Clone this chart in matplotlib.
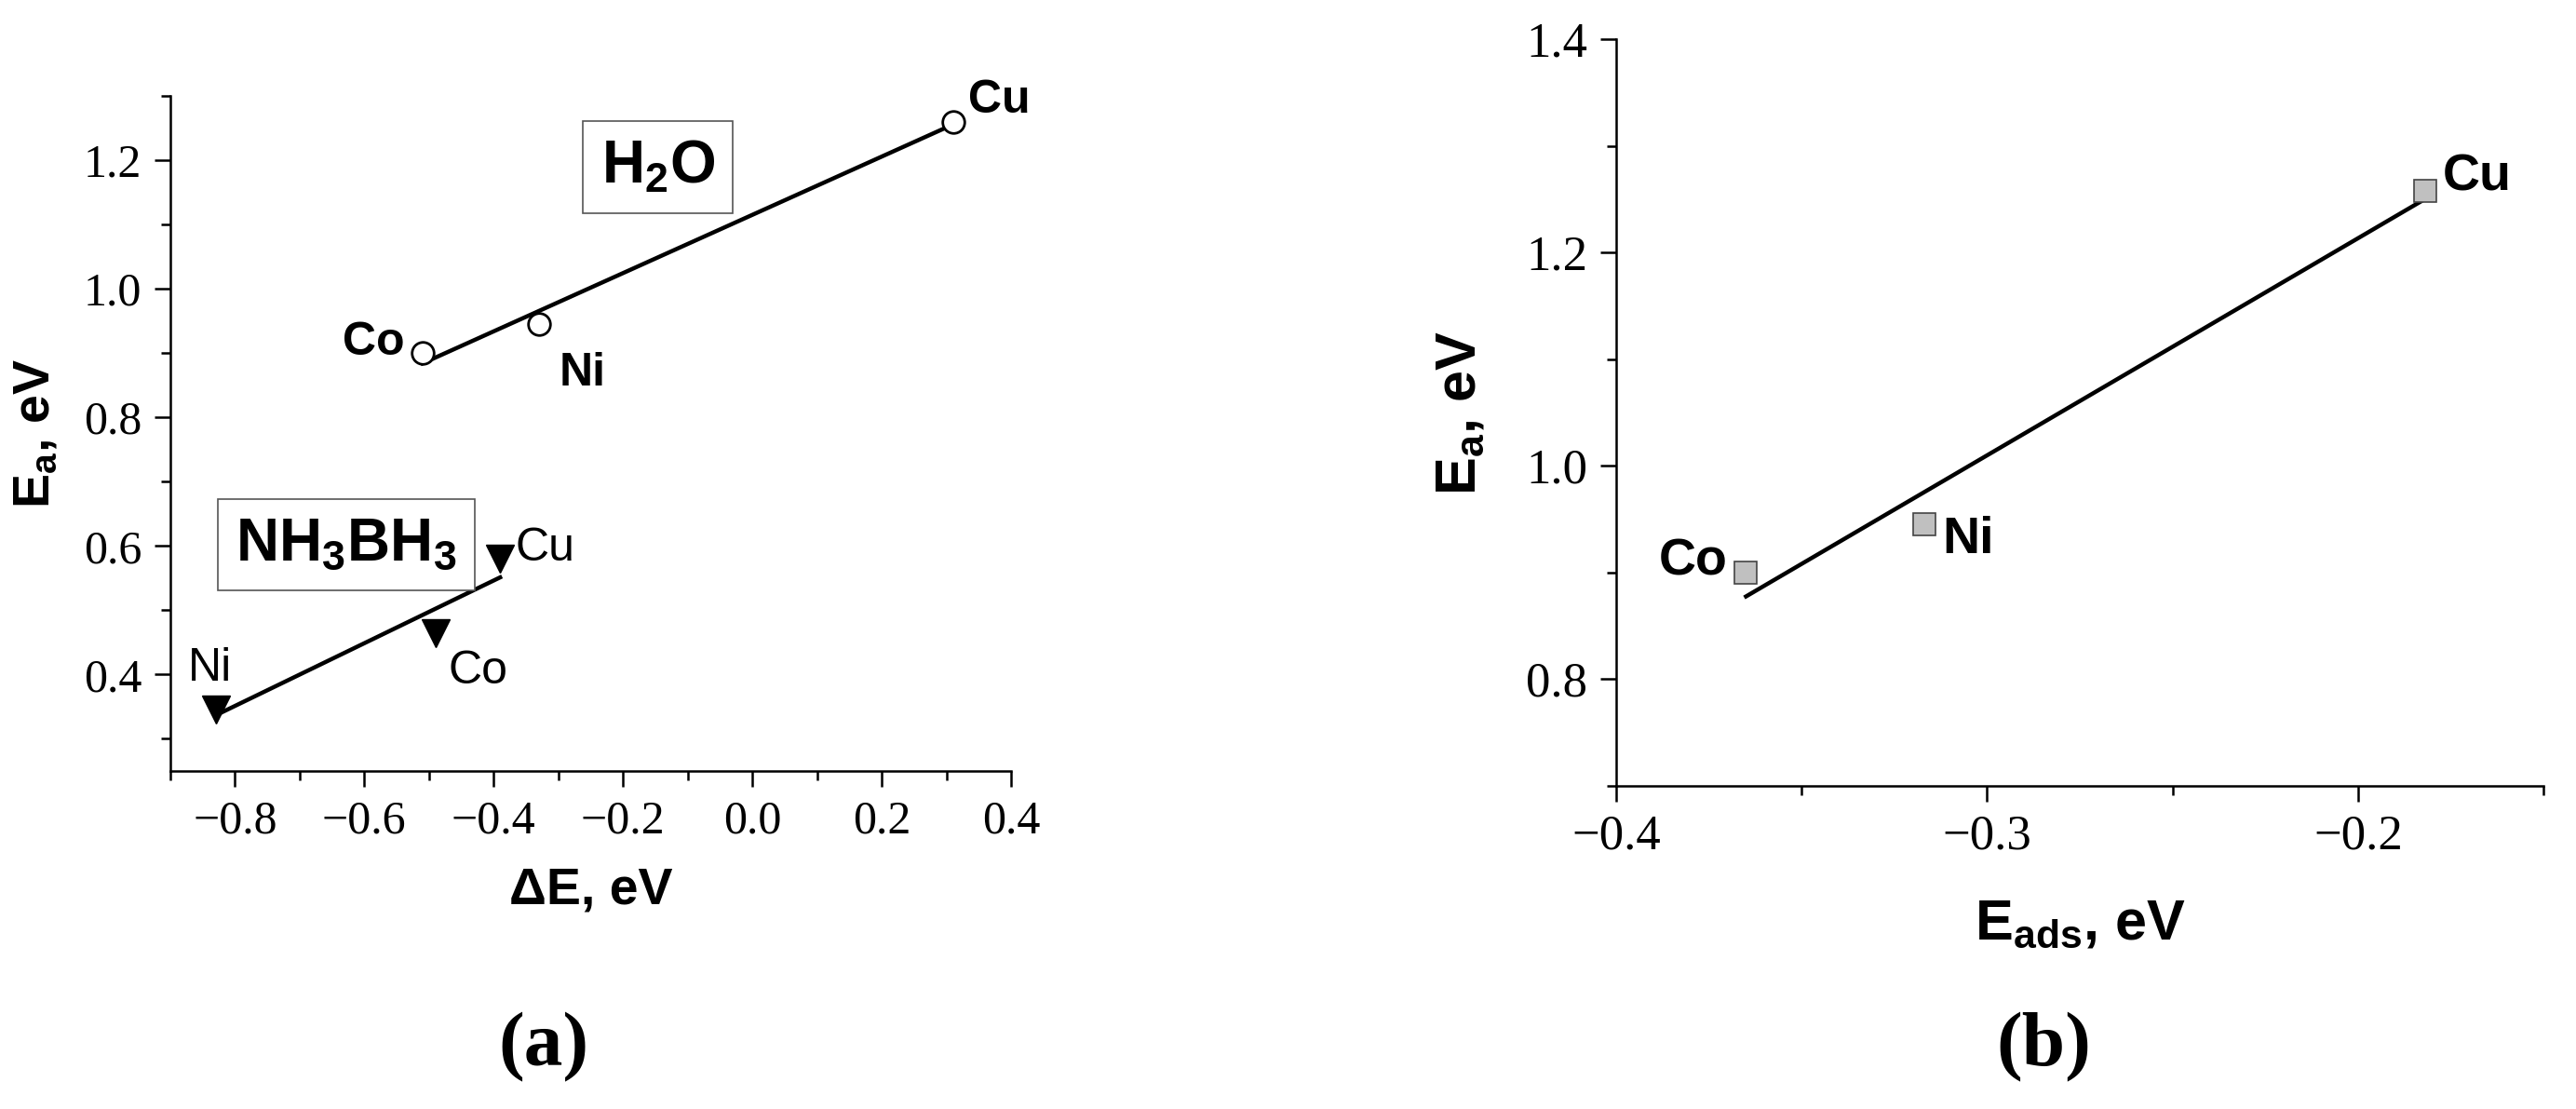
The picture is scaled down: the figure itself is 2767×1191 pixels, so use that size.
import matplotlib
matplotlib.use('Agg')
import matplotlib.pyplot as plt
from matplotlib.ticker import MultipleLocator
import numpy as np

metals_h2o = ['Co', 'Ni', 'Cu']
dE_h2o = [-0.51, -0.33, 0.31]
ea_h2o = [0.90, 0.945, 1.26]

metals_ab = ['Ni', 'Co', 'Cu']
dE_ab = [-0.83, -0.49, -0.39]
ea_ab = [0.345, 0.465, 0.58]

metals_ads = ['Co', 'Ni', 'Cu']
eads = [-0.365, -0.317, -0.182]
ea_ads = [0.90, 0.945, 1.258]

plt.rcParams['mathtext.default'] = 'regular'
serif = 'Liberation Serif'
sans = 'Liberation Sans'

fig = plt.figure(figsize=(27.67, 11.91), dpi=100)
ax1 = fig.add_axes([0.0661, 0.3048, 0.3264, 0.6087])
ax2 = fig.add_axes([0.6274, 0.2913, 0.360, 0.6734])


def fit_line(ax, x, y):
    k, b = np.polyfit(x, y, 1)
    xs = np.array([min(x), max(x)])
    ax.plot(xs, k * xs + b, color='black', lw=3.2, zorder=2)


def style(ax, xmaj, xmin, ymaj, ymin, fs):
    for s in ['top', 'right']:
        ax.spines[s].set_visible(False)
    for s in ['left', 'bottom']:
        ax.spines[s].set_linewidth(1.8)
    ax.xaxis.set_major_locator(MultipleLocator(xmaj))
    ax.xaxis.set_minor_locator(MultipleLocator(xmin))
    ax.yaxis.set_major_locator(MultipleLocator(ymaj))
    ax.yaxis.set_minor_locator(MultipleLocator(ymin))
    ax.tick_params(which='major', length=12, width=1.8, labelsize=fs, pad=10,
                   labelfontfamily=serif)
    ax.tick_params(which='minor', length=7, width=1.8)


# (a)
fit_line(ax1, dE_h2o, ea_h2o)
fit_line(ax1, dE_ab, ea_ab)
ax1.plot(dE_h2o, ea_h2o, 'o', ms=17, mfc='white', mec='black', mew=2, ls='none', zorder=3)
ax1.plot(dE_ab, ea_ab, 'v', ms=21, color='black', ls='none', zorder=3)
ax1.set_xlim(-0.9, 0.4)
ax1.set_ylim(0.25, 1.3)
style(ax1, 0.2, 0.1, 0.2, 0.1, 36)
ax1.set_xlabel('ΔE, eV', fontsize=40, fontweight='bold', fontfamily=sans, labelpad=18)
ax1.set_ylabel('E$_a$, eV', fontsize=40, fontweight='bold', fontfamily=sans, labelpad=18)

offs_h2o = {'Co': (-14, 8, 'right'), 'Ni': (16, -38, 'left'), 'Cu': (12, 16, 'left')}
for m, x, y in zip(metals_h2o, dE_h2o, ea_h2o):
    dx, dy, ha = offs_h2o[m]
    ax1.annotate(m, (x, y), xytext=(dx, dy), textcoords='offset points', ha=ha, va='center',
                 fontsize=36, fontweight='bold', fontfamily=sans)
offs_ab = {'Ni': (-4, 32, 'center'), 'Co': (10, -30, 'left'), 'Cu': (12, 8, 'left')}
for m, x, y in zip(metals_ab, dE_ab, ea_ab):
    dx, dy, ha = offs_ab[m]
    ax1.annotate(m, (x, y), xytext=(dx, dy), textcoords='offset points', ha=ha, va='center',
                 fontsize=36, fontfamily=sans)

box = dict(boxstyle='square,pad=0.3', fc='white', ec='#555555', lw=1.2)
ax1.text(-0.146, 1.189, 'H$_2$O', fontsize=46, fontweight='bold', fontfamily=sans,
         ha='center', va='center', bbox=box)
ax1.text(-0.628, 0.602, 'NH$_3$BH$_3$', fontsize=46, fontweight='bold', fontfamily=sans,
         ha='center', va='center', bbox=box)

# (b)
fit_line(ax2, eads, ea_ads)
ax2.plot(eads, ea_ads, 's', ms=17, mfc='#c0c0c0', mec='#444444', mew=1.2, ls='none', zorder=3)
ax2.set_xlim(-0.4, -0.15)
ax2.set_ylim(0.7, 1.4)
style(ax2, 0.1, 0.05, 0.2, 0.1, 38)
ax2.set_xlabel('E$_{ads}$, eV', fontsize=44, fontweight='bold', fontfamily=sans, labelpad=30)
ax2.set_ylabel('E$_a$, eV', fontsize=44, fontweight='bold', fontfamily=sans, labelpad=30)

offs_ads = {'Co': (-14, 8, 'right'), 'Ni': (14, -12, 'left'), 'Cu': (14, 10, 'left')}
for m, x, y in zip(metals_ads, eads, ea_ads):
    dx, dy, ha = offs_ads[m]
    ax2.annotate(m, (x, y), xytext=(dx, dy), textcoords='offset points', ha=ha, va='center',
                 fontsize=40, fontweight='bold', fontfamily=sans)

fig.text(584 / 2767, 1 - 1125 / 1191, '(a)', fontsize=60, fontfamily=serif, fontweight='bold',
         ha='center', va='center')
fig.text(2195 / 2767, 1 - 1125 / 1191, '(b)', fontsize=60, fontfamily=serif, fontweight='bold',
         ha='center', va='center')

fig.savefig('out.png', dpi=100, facecolor='white')
